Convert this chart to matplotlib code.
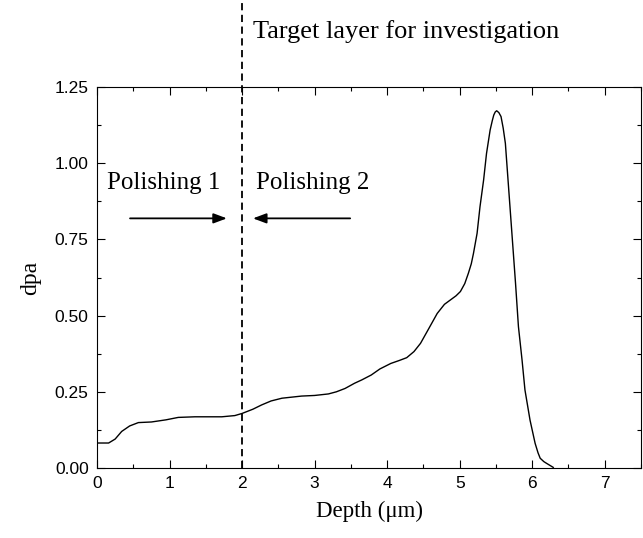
import matplotlib
matplotlib.use("Agg")
import matplotlib.pyplot as plt
from matplotlib.ticker import MultipleLocator

# dpa profile
depth = [0.0, 0.16, 0.25, 0.34, 0.45, 0.57, 0.75, 0.95, 1.12, 1.35, 1.72, 1.9, 2.0,
         2.15, 2.27, 2.4, 2.55, 2.82, 3.0, 3.19, 3.3, 3.42, 3.55, 3.65, 3.78, 3.9,
         4.05, 4.17, 4.27, 4.37, 4.46, 4.58, 4.69, 4.79, 4.87, 4.95, 5.01, 5.07,
         5.12, 5.16, 5.19, 5.24, 5.28, 5.33, 5.37, 5.42, 5.45, 5.47, 5.49, 5.51,
         5.54, 5.57, 5.60, 5.63, 5.67, 5.72, 5.77, 5.81, 5.86, 5.90, 5.97, 6.04,
         6.08, 6.11, 6.16, 6.20, 6.29]
dpa = [0.082, 0.082, 0.095, 0.12, 0.138, 0.149, 0.151, 0.158, 0.166, 0.168, 0.168,
       0.172, 0.179, 0.193, 0.207, 0.22, 0.229, 0.236, 0.238, 0.243, 0.25, 0.261,
       0.278, 0.289, 0.305, 0.325, 0.343, 0.353, 0.362, 0.382, 0.409, 0.46, 0.507,
       0.537, 0.551, 0.565, 0.579, 0.605, 0.639, 0.67, 0.704, 0.77, 0.857, 0.945,
       1.032, 1.109, 1.14, 1.158, 1.168, 1.172, 1.166, 1.153, 1.115, 1.065, 0.934,
       0.77, 0.606, 0.464, 0.354, 0.256, 0.157, 0.081, 0.05, 0.032, 0.021, 0.015,
       0.002]

x_ticks = [0, 1, 2, 3, 4, 5, 6, 7]
y_ticks = [0.00, 0.25, 0.50, 0.75, 1.00, 1.25]
target_depth = 2.0

serif = "Liberation Serif"
sans = "Liberation Sans"

fig = plt.figure(figsize=(6.43, 5.38), dpi=100)
ax = fig.add_axes([0.1509, 0.1301, 0.846, 0.7082])

ax.plot(depth, dpa, color="black", lw=1.0)

# target layer marker, running above the axes
ax.plot([target_depth, target_depth], [0, 1.53], color="black", lw=1.3,
        linestyle=(0, (4, 2.5)), clip_on=False)

ax.set_xlim(0, 7.5)
ax.set_ylim(0, 1.25)
ax.set_xticks(x_ticks)
ax.set_yticks(y_ticks)
ax.set_yticklabels([f"{v:.2f}" for v in y_ticks])
ax.xaxis.set_minor_locator(MultipleLocator(0.5))
ax.yaxis.set_minor_locator(MultipleLocator(0.125))
ax.tick_params(which="both", direction="in", top=True, right=True, width=0.8)
ax.tick_params(which="major", length=6, labelsize=12.5, pad=6)
ax.tick_params(which="minor", length=3)
for lab in ax.get_xticklabels() + ax.get_yticklabels():
    lab.set_fontfamily(sans)
for s in ax.spines.values():
    s.set_linewidth(0.8)

ax.set_xlabel("Depth (\u03bcm)", fontfamily=serif, fontsize=16.5, labelpad=7)
ax.set_ylabel("dpa", fontfamily=serif, fontsize=17, labelpad=10)

ax.text(0.134, 0.914, "Polishing 1", fontfamily=serif, fontsize=18)
ax.text(2.19, 0.914, "Polishing 2", fontfamily=serif, fontsize=18)
ax.text(2.15, 1.411, "Target layer for investigation", fontfamily=serif,
        fontsize=19, clip_on=False)

arrow = dict(arrowstyle="-|>,head_length=0.8,head_width=0.3", color="black",
             lw=1.3, shrinkA=0, shrinkB=0)
ax.annotate("", xy=(1.79, 0.819), xytext=(0.455, 0.819), arrowprops=arrow)
ax.annotate("", xy=(2.15, 0.819), xytext=(3.49, 0.819), arrowprops=arrow)

fig.savefig("out.png", dpi=100)
